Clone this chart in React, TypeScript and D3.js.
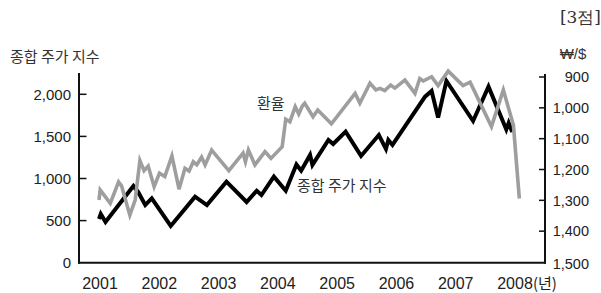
import React from "react";
import * as d3 from "d3";

// 종합 주가 지수 (left axis)
const kospiYears = [
  2001.0, 2001.03, 2001.11, 2001.58, 2001.66, 2001.78, 2001.89, 2002.21, 2002.62, 2002.82,
  2003.15, 2003.49, 2003.66, 2003.74, 2003.95, 2004.15, 2004.33, 2004.41, 2004.56, 2004.6,
  2004.87, 2004.95, 2005.16, 2005.42, 2005.72, 2005.84, 2005.88, 2005.95, 2006.5, 2006.61,
  2006.72, 2006.86, 2007.31, 2007.57, 2007.87, 2007.91, 2007.97,
];
const kospiValues = [
  519, 579, 484, 911, 840, 685, 765, 436, 784, 685,
  962, 721, 855, 804, 1022, 855, 1167, 1093, 1279, 1161,
  1458, 1410, 1556, 1268, 1517, 1351, 1458, 1398, 1972, 2040,
  1723, 2159, 1683, 2091, 1582, 1660, 1553,
];

// 환율 (right axis, inverted)
const rateYears = [
  2001.0, 2001.02, 2001.19, 2001.33, 2001.38, 2001.52, 2001.61, 2001.69, 2001.76, 2001.83,
  2001.93, 2002.02, 2002.11, 2002.23, 2002.35, 2002.45, 2002.52, 2002.59, 2002.65, 2002.73,
  2002.79, 2002.9, 2003.19, 2003.43, 2003.47, 2003.52, 2003.63, 2003.8, 2003.9, 2004.09,
  2004.15, 2004.22, 2004.31, 2004.37, 2004.43, 2004.47, 2004.61, 2004.69, 2004.92, 2005.32,
  2005.4, 2005.57, 2005.67, 2005.74, 2005.82, 2005.92, 2005.99, 2006.16, 2006.33, 2006.41,
  2006.47, 2006.61, 2006.72, 2006.89, 2007.14, 2007.26, 2007.62, 2007.82, 2007.99, 2008.09,
];
const rateValues = [
  1299, 1266, 1310, 1240, 1253, 1348, 1299, 1171, 1204, 1189,
  1256, 1212, 1223, 1156, 1264, 1196, 1205, 1175, 1185, 1160,
  1185, 1137, 1204, 1147, 1175, 1137, 1185, 1142, 1164, 1126,
  1037, 1045, 996, 1020, 994, 985, 1029, 1007, 1052, 953,
  985, 920, 942, 937, 944, 926, 936, 910, 953, 905,
  913, 899, 928, 881, 928, 917, 1061, 942, 1056, 1294,
];

const yearTicks = [2001, 2002, 2003, 2004, 2005, 2006, 2007, 2008];
const kospiTicks = [0, 500, 1000, 1500, 2000];
const rateTicks = [900, 1000, 1100, 1200, 1300, 1400, 1500];

const numFont = "'Liberation Sans', Arial, sans-serif";
const krFont = "'Noto Sans CJK KR', sans-serif";

export default function App() {
  const x = d3.scaleLinear().domain([2001, 2008]).range([99, 514]);
  const yL = d3.scaleLinear().domain([0, 2000]).range([262.7, 94.3]);
  const yR = d3.scaleLinear().domain([900, 1500]).range([77, 262]);
  const fmt = d3.format(",");

  const kospiLine = d3
    .line<number>()
    .x((_, i) => x(kospiYears[i]))
    .y((d) => yL(d))(kospiValues);
  const rateLine = d3
    .line<number>()
    .x((_, i) => x(rateYears[i]))
    .y((d) => yR(d))(rateValues);

  return (
    <div style={{ position: "absolute", left: 0, top: 0 }}>
      <svg width={601} height={293} style={{ display: "block", background: "#fff" }}>
        <text x={601} y={23} textAnchor="end" fontFamily="'DejaVu Serif', serif" fontSize={17} fill="#333">
          [3점]
        </text>
        <text x={10} y={62} fontFamily={krFont} fontSize={15} fill="#333">
          종합 주가 지수
        </text>
        <text x={573} y={59} textAnchor="middle" fontFamily={numFont} fontSize={15} fill="#333">
          ₩/$
        </text>

        {/* axes */}
        <line x1={79} x2={79} y1={73} y2={263.7} stroke="#111" strokeWidth={2} />
        <line x1={78} x2={546} y1={262.7} y2={262.7} stroke="#111" strokeWidth={2} />
        <line x1={545} x2={545} y1={74} y2={263.7} stroke="#111" strokeWidth={2} />

        {kospiTicks.map((t) => (
          <g key={"l" + t}>
            {t > 0 && <line x1={79} x2={86.5} y1={yL(t)} y2={yL(t)} stroke="#111" strokeWidth={1.5} />}
            <text x={71} y={yL(t)} dy="0.36em" textAnchor="end" fontFamily={numFont} fontSize={15} fill="#222">
              {fmt(t)}
            </text>
          </g>
        ))}
        {rateTicks.map((t) => (
          <g key={"r" + t}>
            {t < 1500 && <line x1={539} x2={545} y1={yR(t)} y2={yR(t)} stroke="#111" strokeWidth={1.5} />}
            <text x={589} y={yR(t) + (t === 1500 ? 1.5 : 0)} dy="0.36em" textAnchor="end" fontFamily={numFont} fontSize={14.5} fill="#222">
              {fmt(t)}
            </text>
          </g>
        ))}
        {yearTicks.map((t) => (
          <text key={"x" + t} x={x(t) + 1} y={289} textAnchor="middle" fontFamily={numFont} fontSize={16} fill="#222">
            {t}
          </text>
        ))}
        <text x={x(2008) + 19} y={289} fontFamily={krFont} fontSize={15} fill="#222">
          (년)
        </text>

        <path d={kospiLine || ""} fill="none" stroke="#000" strokeWidth={4} strokeLinejoin="miter" />
        <path d={rateLine || ""} fill="none" stroke="#9e9e9e" strokeWidth={3.6} strokeLinejoin="miter" />

        <text x={257} y={109} fontFamily={krFont} fontSize={15} fill="#333">
          환율
        </text>
        <text x={297} y={191} fontFamily={krFont} fontSize={15} fill="#333">
          종합 주가 지수
        </text>
      </svg>
    </div>
  );
}
